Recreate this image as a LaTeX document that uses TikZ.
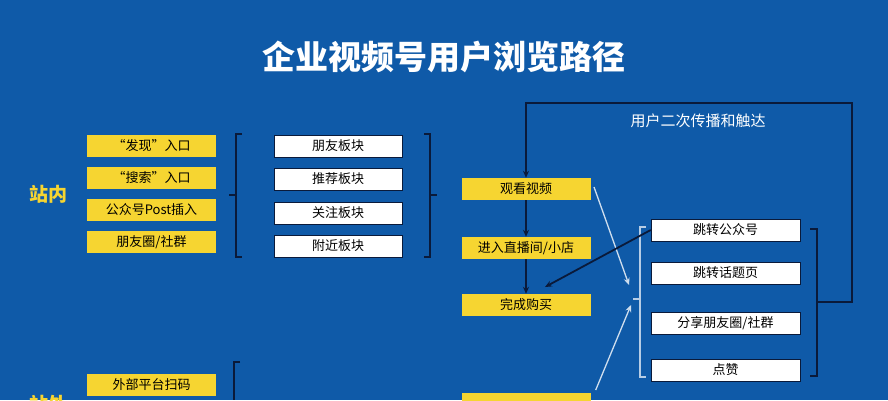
\documentclass[tikz,border=0pt]{standalone}
\usepackage{fontspec}
\setmainfont{Noto Sans CJK SC}
\usetikzlibrary{arrows.meta}
\definecolor{bg}{HTML}{0F5AA8}
\definecolor{yel}{HTML}{F6D531}
\definecolor{navy}{HTML}{0A1A3A}
\begin{document}
\begin{tikzpicture}[x=1pt,y=-1pt,
 ybox/.style={fill=yel,minimum width=129pt,minimum height=22pt,inner sep=0pt,font=\fontsize{13}{14}\selectfont,text=black},
 wbox/.style={fill=white,draw=navy,line width=0.6pt,minimum height=22pt,inner sep=0pt,font=\fontsize{13}{14}\selectfont,text=black},
 brk/.style={draw=navy,line width=1.8pt},
 darr/.style={draw=navy,line width=1.8pt,-{Stealth[length=7pt,width=6pt]}},
 larr/.style={draw=white!80!bg,line width=1.3pt,-{Stealth[length=7pt,width=6pt]}}]
\clip (0,0) rectangle (888,400);
\fill[bg] (0,0) rectangle (888,400);
\useasboundingbox (0,0) rectangle (888,400);
\node[text=white,font=\bfseries\fontsize{33}{35}\selectfont] (title) at (444,57) {企业视频号用户浏览路径};
\node[text=yel,font=\bfseries\fontsize{19}{20}\selectfont] (zn) at (48,194) {站内};
\node[text=yel,font=\bfseries\fontsize{19}{20}\selectfont] (zw) at (48,404) {站外};
\node[ybox] (a1) at (151.5,146) {“发现”入口};
\node[ybox] (a2) at (151.5,178) {“搜索”入口};
\node[ybox] (a3) at (151.5,210) {公众号Post插入};
\node[ybox] (a4) at (151.5,242) {朋友圈/社群};
\node[ybox] (a5) at (151.5,385) {外部平台扫码};
\node[wbox,minimum width=128pt] (b1) at (338,146) {朋友板块};
\node[wbox,minimum width=128pt] (b2) at (338,179) {推荐板块};
\node[wbox,minimum width=128pt] (b3) at (338,213) {关注板块};
\node[wbox,minimum width=128pt] (b4) at (338,246) {附近板块};
\draw[brk] (242,134) -- (236,134) -- (236,257) -- (242,257) (236,195) -- (229,195);
\draw[brk] (424,134) -- (430,134) -- (430,257) -- (424,257) (430,195) -- (437,195);
\draw[brk] (240,362) -- (234,362) -- (234,400);
\node[ybox] (c1) at (526,189) {观看视频};
\node[ybox] (c2) at (526,248) {进入直播间/小店};
\node[ybox] (c3) at (526,305) {完成购买};
\node[ybox,anchor=north] (c4) at (526,393) {};
\draw[darr] (c1) -- (c2);
\draw[darr] (c2) -- (c3);
\node[wbox,minimum width=149pt] (d1) at (725.5,230) {跳转公众号};
\node[wbox,minimum width=149pt] (d2) at (725.5,273) {跳转话题页};
\node[wbox,minimum width=149pt] (d3) at (725.5,323) {分享朋友圈/社群};
\node[wbox,minimum width=149pt] (d4) at (725.5,370) {点赞};
\draw[brk,draw=white!70!bg,line width=1.3pt] (646,227) -- (640,227) -- (640,377) -- (646,377) (640,299) -- (633,299);
\draw[brk] (810,229) -- (817,229) -- (817,376) -- (810,376);
\coordinate (m) at (817,302);
\draw[darr] (m) -- (852,302) -- (852,103) -- (526,103) -- (c1.north);
\node[text=white,font=\fontsize{15}{16}\selectfont] (lbl) at (698,121) {用户二次传播和触达};
\coordinate (t1) at (629,285);
\coordinate (t2) at (631,305);
\draw[larr] (594,187) -- (t1);
\draw[larr] (c4.north east) ++(5,-3) -- (t2);
\draw[darr] (d1.west) -- (545,287);
\end{tikzpicture}
\end{document}
